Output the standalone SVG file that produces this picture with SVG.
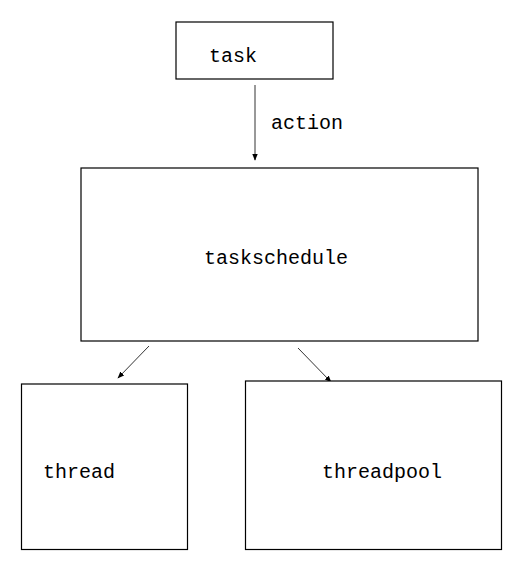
<svg xmlns="http://www.w3.org/2000/svg" width="530" height="567" viewBox="0 0 530 567">
<style>
.box{fill:#fff;stroke:#000;stroke-width:1.2}
.lbl{font-family:"Liberation Mono","DejaVu Sans Mono",monospace;font-size:20px;fill:#000}
.con{stroke:#333;stroke-width:1;fill:none;marker-end:url(#ah)}
</style>
<defs>
<marker id="ah" viewBox="0 0 10 10" refX="9" refY="5" markerWidth="7" markerHeight="7" orient="auto" markerUnits="userSpaceOnUse">
<path d="M0,1 L10,5 L0,9 z" fill="#000"/>
</marker>
</defs>
<rect width="530" height="567" fill="#fff"/>
<g id="connectors">
<line class="con" x1="255" y1="85" x2="255" y2="160"/>
<text class="lbl" x="271" y="129">action</text>
<line class="con" x1="149" y1="346" x2="118" y2="378"/>
<line class="con" x1="298" y1="348" x2="331" y2="382"/>
</g>
<g id="task">
<rect class="box" x="176" y="22" width="157" height="57"/>
<text class="lbl" x="209" y="62">task</text>
</g>
<g id="taskschedule">
<rect class="box" x="81" y="168" width="397" height="173"/>
<text class="lbl" x="204" y="264">taskschedule</text>
</g>
<g id="thread">
<rect class="box" x="21.5" y="384" width="166" height="165.5"/>
<text class="lbl" x="43" y="478">thread</text>
</g>
<g id="threadpool">
<rect class="box" x="245.5" y="381" width="256" height="168.5"/>
<text class="lbl" x="322" y="478">threadpool</text>
</g>
</svg>
